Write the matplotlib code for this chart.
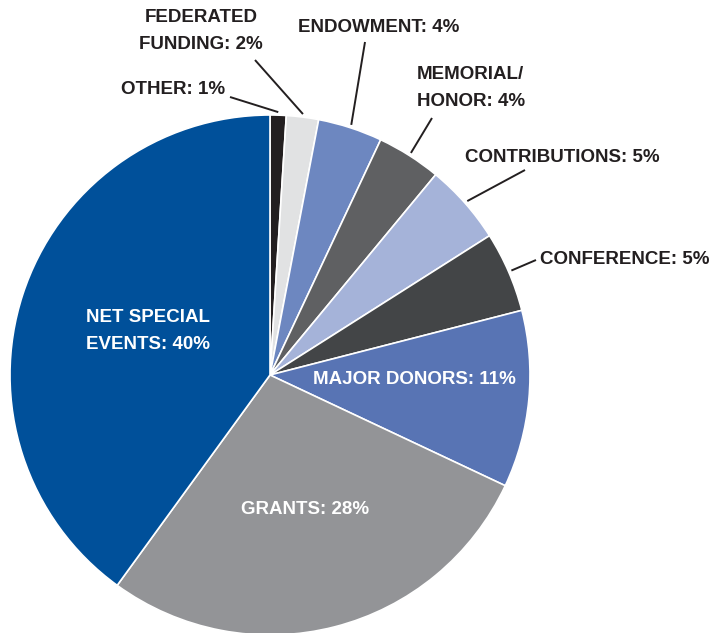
import matplotlib
matplotlib.use('Agg')
import matplotlib.pyplot as plt
import numpy as np

# income sources, clockwise from the top
labels = ['OTHER: 1%', 'FEDERATED\nFUNDING: 2%', 'ENDOWMENT: 4%', 'MEMORIAL/\nHONOR: 4%',
          'CONTRIBUTIONS: 5%', 'CONFERENCE: 5%', 'MAJOR DONORS: 11%', 'GRANTS: 28%',
          'NET SPECIAL\nEVENTS: 40%']
values = [1, 2, 4, 4, 5, 5, 11, 28, 40]
colors = ['#231f20', '#e1e2e3', '#6d87c0', '#5f6062', '#a5b3d9', '#434547',
          '#5874b4', '#939497', '#00509a']

W, H = 711, 633
plt.rcParams['font.family'] = ['Liberation Sans', 'DejaVu Sans']

fig = plt.figure(figsize=(W / 100, H / 100), dpi=100)
ax = fig.add_axes([0, 0, 1, 1])

cx, cy, r = 270, H - 375, 260
wedges, _ = ax.pie(values, colors=colors, startangle=90, counterclock=False,
                   center=(cx, cy), radius=r, frame=True,
                   wedgeprops=dict(edgecolor='white', linewidth=1.2))
ax.set_xlim(0, W)
ax.set_ylim(0, H)
ax.set_aspect('equal')
ax.axis('off')

# label placement in pixel coords (from top-left): x, y, ha, leader start
layout = [
    (225, 90, 'right', (230, 97)),
    (201, 31, 'center', (255, 60)),
    (379, 28, 'center', (365, 42)),
    (417, 88, 'left', (432, 118)),
    (562, 157, 'center', (525, 170)),
    (540, 259, 'left', (536, 260)),
    (414, 380, 'center', None),
    (305, 510, 'center', None),
    (86, 331, 'left', None),
]

ink = '#231f20'
for w, lab, (x, y, ha, lead) in zip(wedges, labels, layout):
    inside = lead is None
    ax.text(x, H - y, lab, ha=ha, va='center', fontsize=13.5, fontweight='bold',
            color='white' if inside else ink, linespacing=1.7)
    if lead is not None:
        mid = np.deg2rad((w.theta1 + w.theta2) / 2)
        ex = cx + (r + 3) * np.cos(mid)
        ey = cy + (r + 3) * np.sin(mid)
        ax.plot([lead[0], ex], [H - lead[1], ey], color=ink, lw=1.4,
                solid_capstyle='butt')

fig.savefig('out.png', dpi=100)
